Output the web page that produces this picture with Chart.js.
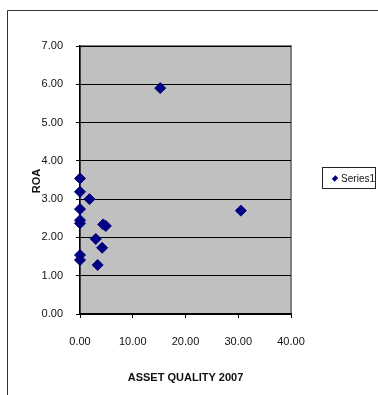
<!DOCTYPE html>
<html>
<head>
<meta charset="utf-8">
<script src="https://cdn.jsdelivr.net/npm/chart.js@4"></script>
<style>
  body { margin: 0; background: #fff; }
  #wrap { position: relative; width: 378px; height: 395px; }
  #legend {
    position: absolute; left: 322px; top: 167px; width: 54px; height: 22px;
    border: 1px solid #222; background: #fff; box-sizing: border-box;
    font: 10px "Liberation Sans", Arial, sans-serif; color: #111;
    display: flex; align-items: center; padding-left: 10px;
  }
  #legend .mk {
    width: 5px; height: 5px; background: #000080; transform: rotate(45deg);
    margin-right: 4px;
  }
</style>
</head>
<body>
<div id="wrap">
  <canvas id="chart" width="378" height="395"></canvas>
  <div id="legend"><span class="mk"></span>Series1</div>
</div>
<script>
// Dati
const assetQuality = [15.2, 30.5, 0, 0, 1.8, 0, 0, 0, 4.4, 4.9, 3.0, 4.2, 0, 0, 3.35];
const roa = [5.9, 2.7, 3.54, 3.19, 3.0, 2.74, 2.45, 2.37, 2.34, 2.30, 1.96, 1.73, 1.54, 1.41, 1.28];
const xTicks = [0, 10, 20, 30, 40];
const yTicks = [0, 1, 2, 3, 4, 5, 6, 7];

const points = assetQuality.map((x, i) => ({ x: x, y: roa[i] }));
const font = { family: '"Liberation Sans", Arial, sans-serif', size: 11 };

// sfondo grigio dell'area del grafico + bordo esterno
const bgPlugin = {
  id: 'bg',
  beforeDraw(chart) {
    const ctx = chart.ctx, a = chart.chartArea;
    ctx.save();
    ctx.strokeStyle = '#333';
    ctx.lineWidth = 1;
    ctx.beginPath();
    ctx.moveTo(7.5, 395);
    ctx.lineTo(7.5, 10.5);
    ctx.lineTo(378, 10.5);
    ctx.stroke();
    ctx.fillStyle = '#c0c0c0';
    ctx.fillRect(a.left, a.top, a.right - a.left, a.bottom - a.top);
    ctx.strokeStyle = '#808080';
    ctx.lineWidth = 2;
    ctx.strokeRect(a.left, a.top, a.right - a.left, a.bottom - a.top);
    ctx.restore();
  },
  afterDraw(chart) {
    const ctx = chart.ctx;
    ctx.save();
    ctx.translate(37, 181);
    ctx.rotate(-Math.PI / 2);
    ctx.font = 'bold 11px "Liberation Sans", Arial, sans-serif';
    ctx.fillStyle = '#111';
    ctx.textAlign = 'center';
    ctx.textBaseline = 'middle';
    ctx.fillText('ROA', 0, 0);
    ctx.restore();
  }
};

new Chart(document.getElementById('chart'), {
  type: 'scatter',
  data: {
    datasets: [{
      label: 'Series1',
      data: points,
      clip: false,
      pointStyle: 'rectRot',
      pointRadius: 5.5,
      pointHoverRadius: 5.5,
      backgroundColor: '#000080',
      borderColor: '#000080',
      borderWidth: 1
    }]
  },
  options: {
    responsive: false,
    animation: false,
    events: [],
    layout: { padding: { left: 0, top: 46, right: 87, bottom: 0 } },
    plugins: { legend: { display: false }, tooltip: { enabled: false } },
    scales: {
      x: {
        type: 'linear',
        min: 0, max: 40,
        afterBuildTicks: s => { s.ticks = xTicks.map(v => ({ value: v })); },
        afterFit: s => { s.height = 81; },
        grid: { drawOnChartArea: false, drawTicks: true, tickLength: 4, color: '#000' },
        border: { color: '#000', width: 1.5 },
        ticks: { font: font, color: '#111', padding: 17, maxRotation: 0,
                 callback: v => v.toFixed(2) },
        title: { display: true, text: 'ASSET QUALITY 2007', color: '#111',
                 font: { family: font.family, size: 11, weight: 'bold' },
                 padding: { top: 0, bottom: 10 } }
      },
      y: {
        type: 'linear',
        min: 0, max: 7,
        afterBuildTicks: s => { s.ticks = yTicks.map(v => ({ value: v })); },
        afterFit: s => { s.width = 80; },
        grid: { color: '#000', lineWidth: 1, drawTicks: true, tickLength: 4 },
        border: { color: '#000', width: 1.5 },
        ticks: { font: font, color: '#111', padding: 13,
                 callback: v => v.toFixed(2) }
      }
    }
  },
  plugins: [bgPlugin]
});
</script>
</body>
</html>
